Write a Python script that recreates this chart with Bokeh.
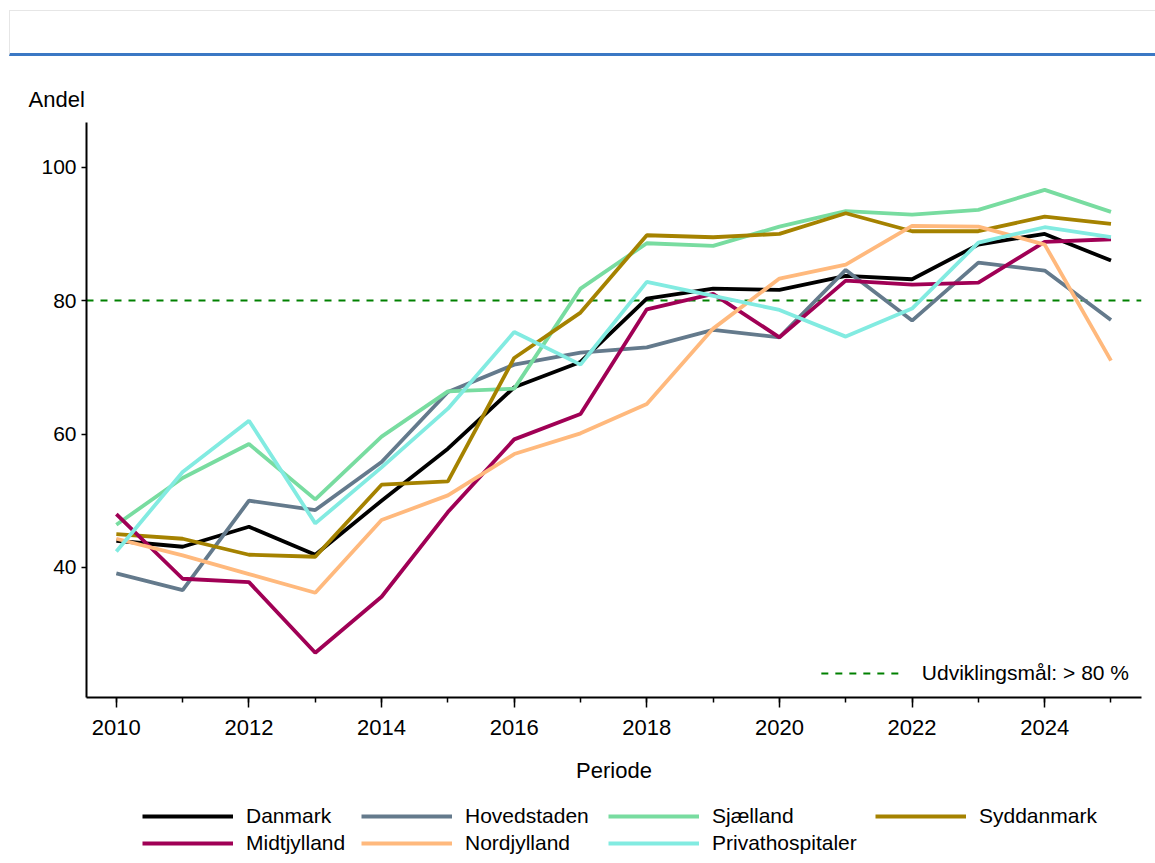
from bokeh.plotting import figure
from bokeh.models import Range1d, FixedTicker, Span, Legend, LegendItem, Div
from bokeh.layouts import column
from bokeh.embed import file_html
from bokeh.resources import INLINE

# ---------------- data ----------------
years = list(range(2010, 2026))
x_major_ticks = [2010, 2012, 2014, 2016, 2018, 2020, 2022, 2024]
y_ticks = [40, 60, 80, 100]
target = 80
target_label = "Udviklingsmål: > 80 %"

series_names = ["Danmark", "Hovedstaden", "Sjælland", "Syddanmark",
                "Midtjylland", "Nordjylland", "Privathospitaler"]

danmark = [44.0, 43.1, 46.1, 41.9, 50.0, 57.8, 67.0, 70.8, 80.3, 81.8, 81.6, 83.7, 83.2, 88.4, 90.0, 86.0]
hovedstaden = [39.1, 36.6, 50.0, 48.6, 55.8, 66.3, 70.4, 72.2, 73.0, 75.6, 74.5, 84.6, 77.0, 85.7, 84.5, 77.1]
sjaelland = [46.4, 53.4, 58.5, 50.2, 59.6, 66.4, 66.8, 81.8, 88.6, 88.2, 91.1, 93.4, 92.9, 93.6, 96.6, 93.3]
syddanmark = [45.0, 44.3, 41.9, 41.6, 52.4, 52.9, 71.4, 78.2, 89.8, 89.5, 90.0, 93.1, 90.4, 90.4, 92.6, 91.5]
midtjylland = [48.0, 38.3, 37.8, 27.2, 35.6, 48.3, 59.2, 63.0, 78.7, 81.0, 74.5, 83.0, 82.4, 82.7, 88.8, 89.2]
nordjylland = [44.3, 41.8, 39.0, 36.2, 47.1, 50.8, 57.0, 60.1, 64.5, 75.8, 83.3, 85.4, 91.2, 91.1, 88.4, 71.0]
privathospitaler = [42.4, 54.3, 62.0, 46.6, 55.0, 63.8, 75.3, 70.4, 82.8, 80.7, 78.6, 74.6, 78.8, 88.7, 91.0, 89.5]

series_values = [danmark, hovedstaden, sjaelland, syddanmark,
                 midtjylland, nordjylland, privathospitaler]
series_colors = ["#000000", "#647a8c", "#78dca0", "#a58200",
                 "#a00055", "#ffb97d", "#82ebe1"]

FONT = "Liberation Sans"
LINE_W = 3.8

# ---------------- header ----------------
header = Div(text="", width=1146, height=46, margin=(10, 0, 0, 9),
             styles={"border-top": "1px solid #e6e6e6",
                     "border-left": "1px solid #e6e6e6",
                     "border-bottom": "3px solid #3b78c4",
                     "box-sizing": "border-box"})

# ---------------- main figure ----------------
p = figure(width=1155, height=739, output_backend="svg", toolbar_location=None,
           x_range=Range1d(2009.55, 2025.46), y_range=Range1d(20.5, 106.7),
           min_border_left=86, min_border_right=14, min_border_top=66,
           min_border_bottom=98)
p.outline_line_color = None
p.grid.visible = False
p.background_fill_color = "white"
p.border_fill_color = "white"

p.title.text = "Andel"
p.title.align = "left"
p.title.offset = -58
p.title.text_font = FONT
p.title.text_font_size = "22px"
p.title.text_font_style = "normal"
p.title.text_color = "black"
p.title.standoff = 22

span = Span(location=target, dimension="width", line_color="#008000",
            line_dash="7 7", line_width=2, level="underlay")
p.add_layout(span)

for name, vals, col in zip(series_names, series_values, series_colors):
    p.line(years, vals, line_color=col, line_width=LINE_W)

# invisible renderer used only as the legend glyph for the target line
tr = p.line(years, [target] * len(years), line_color="#008000",
            line_dash="7 7", line_width=2, visible=False)

# axes
xa = p.xaxis[0]
xa.ticker = FixedTicker(ticks=x_major_ticks, minor_ticks=years)
xa.axis_label = "Periode"
ya = p.yaxis[0]
ya.ticker = FixedTicker(ticks=y_ticks)
for ax in (xa, ya):
    ax.axis_line_color = "black"
    ax.axis_line_width = 2
    ax.major_tick_line_color = "black"
    ax.major_tick_line_width = 1.5
    ax.minor_tick_line_color = "black"
    ax.minor_tick_line_width = 1.5
    ax.major_tick_in = 0
    ax.minor_tick_in = 0
    ax.major_label_text_font = FONT
    ax.major_label_text_color = "black"
    ax.axis_label_text_font = FONT
    ax.axis_label_text_font_style = "normal"
    ax.axis_label_text_font_size = "22px"
    ax.axis_label_text_color = "black"
xa.major_tick_out = 10
xa.minor_tick_out = 5
xa.major_label_text_font_size = "22px"
xa.major_label_standoff = 12
xa.axis_label_standoff = 20
ya.major_tick_out = 5
ya.minor_tick_out = 0
ya.major_label_text_font_size = "21px"
ya.major_label_standoff = 5

legend2 = Legend(items=[LegendItem(label=target_label, renderers=[tr])],
                 location="bottom_right", glyph_width=81, glyph_height=20,
                 label_standoff=20, padding=10, margin=12,
                 label_text_font=FONT, label_text_font_size="21px",
                 label_text_color="black", inactive_fill_alpha=0,
                 border_line_color=None, background_fill_alpha=0)
p.add_layout(legend2)

# ---------------- legend strip below ----------------
lf = figure(width=1155, height=64, output_backend="svg", toolbar_location=None,
            x_range=Range1d(0, 1), y_range=Range1d(0, 1),
            x_axis_location=None, y_axis_location=None,
            min_border_left=0, min_border_right=0, min_border_top=0,
            min_border_bottom=0)
lf.outline_line_color = None
lf.grid.visible = False
lf.background_fill_color = "white"
lf.border_fill_color = "white"

leg_renderers = []
for vals, col in zip(series_values, series_colors):
    r = lf.line(years, vals, line_color=col, line_width=4, visible=False)
    leg_renderers.append(r)

# glyph start positions of the four legend columns (relative to the plot frame)
col_x = [56, 275, 522, 789]
columns_idx = [[0, 4], [1, 5], [2, 6], [3]]
for cx, idxs in zip(col_x, columns_idx):
    its = [LegendItem(label=series_names[i], renderers=[leg_renderers[i]]) for i in idxs]
    ly = 4 if len(idxs) == 2 else 31
    lg = Legend(items=its, location=(cx, ly), orientation="vertical",
                glyph_width=91, glyph_height=20, label_height=20,
                label_standoff=13, spacing=3, padding=0, margin=0,
                label_text_font=FONT, label_text_font_size="21px",
                label_text_color="black", inactive_fill_alpha=0,
                border_line_color=None, background_fill_alpha=0)
    lf.add_layout(lg)

layout = column(header, p, lf, spacing=0)
open("out.html", "w").write(file_html(layout, INLINE))
